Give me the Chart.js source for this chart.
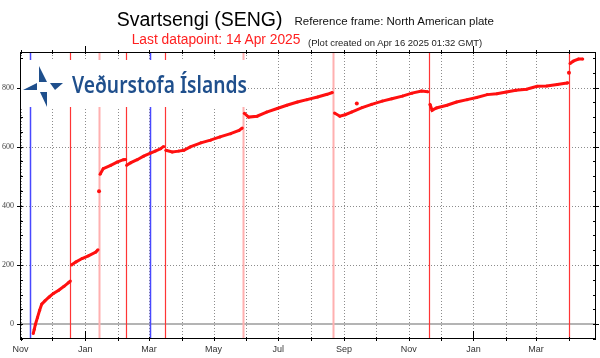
<!DOCTYPE html>
<html>
<head>
<meta charset="utf-8">
<script src="https://cdn.jsdelivr.net/npm/chart.js@4.4.1/dist/chart.umd.min.js"></script>
<style>
  body { margin: 0; background: #fff; }
  #wrap { position: relative; width: 600px; height: 358px; overflow: hidden; }
  .t { position: absolute; white-space: nowrap; font-family: "Liberation Sans", Arial, sans-serif; line-height: 1; }
  #logo { position: absolute; left: 21px; top: 60px; width: 226px; height: 47px; background: #fff; }
  #logoText { position: absolute; left: 50.7px; top: 13.2px; font-family: "Noto Sans", sans-serif; font-weight: 600;
              font-size: 23.4px; line-height: 1; color: #1f4f8c; white-space: nowrap; transform-origin: 0 0; }
</style>
</head>
<body>
<div id="wrap">
  <canvas id="gps" width="600" height="358"></canvas>
  <div class="t" style="left:116.7px; top:10.2px; font-size:19.5px; color:#000;">Svartsengi (SENG)</div>
  <div class="t" style="left:294.5px; top:16.3px; font-size:11.5px; color:#111;">Reference frame: North American plate</div>
  <div class="t" style="left:131.7px; top:33.3px; font-size:13.8px; color:#ff2020;">Last datapoint: 14 Apr 2025</div>
  <div class="t" style="left:308px; top:37.7px; font-size:9.5px; color:#222;">(Plot created on Apr 16 2025 01:32 GMT)</div>
  <div id="logo">
    <svg width="50" height="47" style="position:absolute;left:0;top:0">
      <g fill="#1f4f8c">
        <polygon points="18,6 18,22 26,22"/>
        <polygon points="2,30 16,23 16,30"/>
        <polygon points="29,23 42,23 34,30"/>
        <polygon points="19,32 26,32 26,47"/>
      </g>
    </svg>
    <span id="logoText">Veðurstofa Íslands</span>
  </div>
</div>
<script>
// Svartsengi (SENG) GPS displacement, mm
// null entries break the line between episodes
const obsDates = [
  '2023-11-13', '2023-11-14', '2023-11-15', '2023-11-17', '2023-11-19', '2023-11-21', '2023-11-24',
  '2023-11-28', '2023-12-02', '2023-12-07', '2023-12-12', '2023-12-16', '2023-12-18',
  null,
  '2023-12-19', '2023-12-23', '2023-12-29', '2024-01-04', '2024-01-11', '2024-01-13',
  null,
  '2024-01-15', '2024-01-18', '2024-01-25', '2024-01-31', '2024-02-06', '2024-02-08',
  null,
  '2024-02-09', '2024-02-13', '2024-02-19', '2024-02-25', '2024-03-02', '2024-03-07', '2024-03-12', '2024-03-15',
  null,
  '2024-03-17', '2024-03-23', '2024-03-29', '2024-04-03', '2024-04-09', '2024-04-19', '2024-04-28',
  '2024-05-07', '2024-05-17', '2024-05-25', '2024-05-28',
  null,
  '2024-05-30', '2024-06-03', '2024-06-11', '2024-06-20', '2024-06-30', '2024-07-09', '2024-07-19',
  '2024-07-28', '2024-08-07', '2024-08-16', '2024-08-21',
  null,
  '2024-08-23', '2024-08-28', '2024-09-02', '2024-09-08', '2024-09-18', '2024-09-27', '2024-10-07',
  '2024-10-16', '2024-10-26', '2024-11-04', '2024-11-13', '2024-11-19',
  null,
  '2024-11-21', '2024-11-23', '2024-11-27', '2024-12-07', '2024-12-16', '2024-12-26', '2025-01-04',
  '2025-01-14', '2025-01-23', '2025-02-01', '2025-02-10', '2025-02-20', '2025-03-02', '2025-03-11',
  '2025-03-21', '2025-03-30', '2025-03-31',
  null,
  '2025-04-02', '2025-04-05', '2025-04-10', '2025-04-14'
];
const obsValues = [
  -31, -17, -1, 23, 47, 68, 79,
  92, 104, 115, 128, 140, 146,
  null,
  200, 210, 222, 231, 244, 252,
  null,
  507, 526, 537, 548, 556, 557,
  null,
  537, 546, 556, 568, 577, 585, 593, 601,
  null,
  588, 582, 585, 588, 599, 613, 622,
  633, 644, 655, 663,
  null,
  713, 700, 703, 717, 729, 740, 751,
  759, 768, 777, 783,
  null,
  714, 703, 708, 717, 732, 743, 754,
  762, 771, 781, 788, 786,
  null,
  743, 723, 731, 740, 751, 759, 766,
  776, 779, 785, 791, 794, 804, 805,
  810, 815, 816,
  null,
  881, 889, 896, 896
];

// lone points standing apart from the episodes
const singleDates = ['2024-01-14', '2024-09-13', '2025-04-01'];
const singleValues = [449, 746, 850];

// event markers: dike intrusions (blue) and eruptions (red / pale red)
const eventDates = ['2023-11-10', '2023-12-18', '2024-01-14', '2024-02-08', '2024-03-02',
                    '2024-03-16', '2024-05-29', '2024-08-22', '2024-11-20', '2025-04-01'];
const eventKinds = ['dike', 'eruption', 'eruptionPale', 'eruption', 'dike',
                    'eruption', 'eruptionPale', 'eruptionPale', 'eruption', 'eruption'];

const monthTicks = ['2023-11-01', '2023-12-01', '2024-01-01', '2024-02-01', '2024-03-01', '2024-04-01',
                    '2024-05-01', '2024-06-01', '2024-07-01', '2024-08-01', '2024-09-01', '2024-10-01',
                    '2024-11-01', '2024-12-01', '2025-01-01', '2025-02-01', '2025-03-01', '2025-04-01'];
const monthLabels = ['Nov', '', 'Jan', '', 'Mar', '', 'May', '', 'Jul', '', 'Sep', '', 'Nov', '', 'Jan', '', 'Mar', ''];
const yMajorTicks = [0, 200, 400, 600, 800];

const T0 = Date.UTC(2023, 10, 1);
function dayOf(s) {
    return (Date.parse(s + 'T00:00:00Z') - T0) / 86400000;
}

const linePoints = obsDates.map((d, i) => d === null ? { x: null, y: null } : { x: dayOf(d), y: obsValues[i] });
// keep gaps but give them an x so the scale stays happy
linePoints.forEach((p, i) => { if (p.x === null) p.x = linePoints[i - 1].x + 0.5; });
const singlePoints = singleDates.map((d, i) => ({ x: dayOf(d), y: singleValues[i] }));

const eventStyle = {
    dike: { color: '#4848ff', width: 1.5 },
    eruption: { color: '#ff3535', width: 1.2 },
    eruptionPale: { color: '#ffb0b0', width: 2 }
};

// dotted grid, zero line, event lines, frame and axis tick marks
const decorPlugin = {
    id: 'decor',
    beforeDatasetsDraw(chart) {
        const { ctx, chartArea: a, scales: { x, y } } = chart;
        ctx.save();
        // dotted grid
        ctx.strokeStyle = '#8c8c8c';
        ctx.lineWidth = 1;
        ctx.setLineDash([1, 2]);
        ctx.beginPath();
        monthTicks.forEach(d => {
            const px = Math.round(x.getPixelForValue(dayOf(d))) + 0.5;
            if (px <= a.left + 1) return;
            ctx.moveTo(px, a.top);
            ctx.lineTo(px, a.bottom);
        });
        yMajorTicks.forEach(v => {
            if (v === 0) return;
            const py = Math.round(y.getPixelForValue(v)) + 0.5;
            ctx.moveTo(a.left, py);
            ctx.lineTo(a.right, py);
        });
        ctx.stroke();
        ctx.setLineDash([]);
        // zero line
        const y0 = Math.round(y.getPixelForValue(0));
        ctx.strokeStyle = '#b4b4b4';
        ctx.lineWidth = 2;
        ctx.beginPath();
        ctx.moveTo(a.left, y0);
        ctx.lineTo(a.right, y0);
        ctx.stroke();
        // event lines
        eventDates.forEach((d, i) => {
            const st = eventStyle[eventKinds[i]];
            const px = Math.round(x.getPixelForValue(dayOf(d))) + 0.5;
            ctx.strokeStyle = st.color;
            ctx.lineWidth = st.width;
            ctx.beginPath();
            ctx.moveTo(px, a.top);
            ctx.lineTo(px, a.bottom);
            ctx.stroke();
        });
        ctx.restore();
    },
    afterDatasetsDraw(chart) {
        const { ctx, chartArea: a, scales: { x, y } } = chart;
        ctx.save();
        ctx.strokeStyle = '#000';
        ctx.lineWidth = 1;
        ctx.strokeRect(a.left + 0.5, a.top + 0.5, a.right - a.left - 1, a.bottom - a.top - 1);
        ctx.beginPath();
        for (let v = -50; v <= 900; v += 50) {
            const py = Math.round(y.getPixelForValue(v)) + 0.5;
            const major = v % 200 === 0;
            ctx.moveTo(a.left - (major ? 3 : 0), py);
            ctx.lineTo(a.left + 3, py);
            ctx.moveTo(a.right - 3, py);
            ctx.lineTo(a.right + (major ? 3 : 0), py);
        }
        monthTicks.forEach(d => {
            const px = Math.round(x.getPixelForValue(dayOf(d))) + 0.5;
            const isJan = d.slice(5, 7) === '01';
            ctx.moveTo(px, a.bottom + 2);
            ctx.lineTo(px, a.bottom - (isJan ? 8 : 2));
            ctx.moveTo(px, a.top + 2);
            ctx.lineTo(px, a.top - (isJan ? 6 : 2));
        });
        ctx.stroke();
        ctx.restore();
    }
};

new Chart(document.getElementById('gps'), {
    type: 'line',
    data: {
        datasets: [{
            label: 'SENG',
            data: linePoints,
            borderColor: '#ff1010',
            backgroundColor: '#ff1010',
            borderWidth: 3,
            pointRadius: 1.5,
            pointBorderWidth: 0,
            spanGaps: false,
            tension: 0
        }, {
            label: 'single',
            data: singlePoints,
            showLine: false,
            borderColor: '#ff1010',
            backgroundColor: '#ff1010',
            pointRadius: 2,
            pointBorderWidth: 0
        }]
    },
    options: {
        responsive: false,
        animation: false,
        layout: { padding: { top: 52, right: 4, left: 0, bottom: 0 } },
        plugins: {
            legend: { display: false },
            tooltip: { enabled: false }
        },
        scales: {
            x: {
                type: 'linear',
                min: -0.5,
                max: 542.5,
                afterBuildTicks: s => { s.ticks = monthTicks.map(d => ({ value: dayOf(d) })); },
                afterFit: s => { s.height = 19; },
                ticks: {
                    autoSkip: false,
                    maxRotation: 0,
                    padding: 5,
                    color: '#333',
                    font: { family: 'Liberation Sans', size: 9 },
                    callback: (v, i) => monthLabels[i]
                },
                grid: { display: false, drawTicks: false },
                border: { display: false }
            },
            y: {
                min: -50,
                max: 920,
                afterBuildTicks: s => {
                    const t = [];
                    for (let v = -50; v <= 900; v += 50) t.push({ value: v });
                    s.ticks = t;
                },
                afterFit: s => { s.width = 20; },
                ticks: {
                    padding: 6,
                    color: '#444',
                    font: { family: 'Liberation Serif', size: 8 },
                    callback: v => yMajorTicks.includes(v) ? String(v) : ''
                },
                grid: { display: false, drawTicks: false },
                border: { display: false }
            }
        }
    },
    plugins: [decorPlugin]
});

// fit the logo text to the width it has in the reference
const lt = document.getElementById('logoText');
lt.style.transform = 'scaleX(' + (175 / lt.getBoundingClientRect().width) + ')';
</script>
</body>
</html>
